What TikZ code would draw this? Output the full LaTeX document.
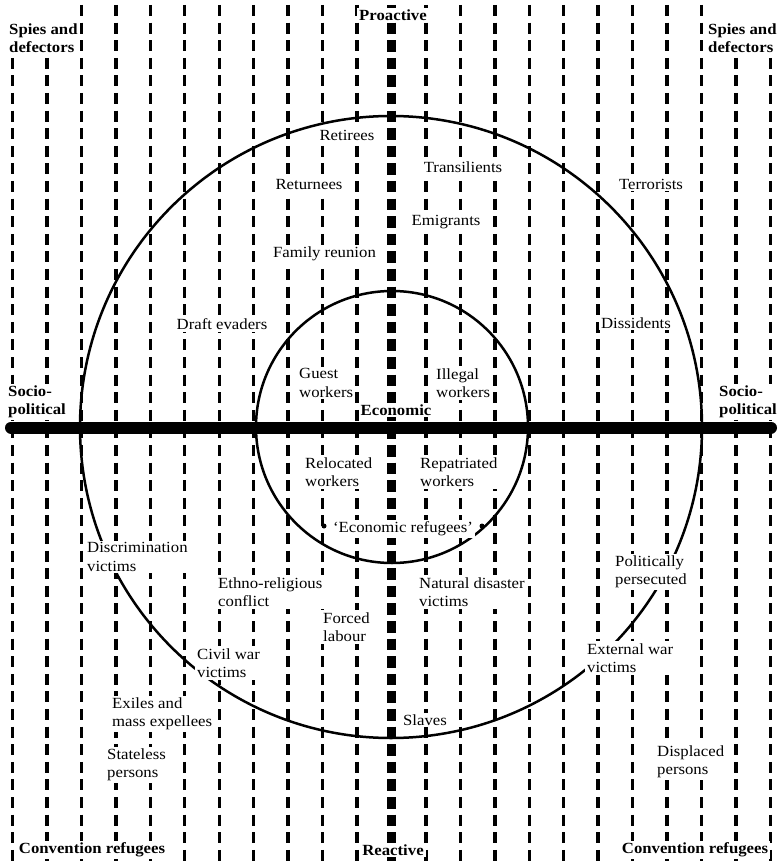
\documentclass[tikz,border=0pt]{standalone}
\usepackage{fontspec}
\setmainfont{Liberation Serif}[FakeStretch=1.08]
\begin{document}
\begin{tikzpicture}[x=1pt,y=-1pt,
  dline/.style={line width=3.4pt, dash pattern=on 11pt off 6.6pt},
  cline/.style={line width=8.5pt, dash pattern=on 11.5pt off 6.1pt},
  ring/.style={line width=2.5pt},
  axisline/.style={line width=12pt, line cap=round},
  lab/.style={fill=white, inner sep=2pt, font=\fontsize{15.5}{18.5}\selectfont, align=left},
  blab/.style={lab, font=\fontsize{15.5}{17.5}\selectfont\bfseries},
  pt/.style={circle, fill=black, inner sep=0pt, minimum size=5pt},
]
\useasboundingbox (0,0) rectangle (779,866);
% thin dashed verticals
\foreach \k in {0,...,22}{
  \pgfmathsetmacro{\xx}{12.5+34.45*\k}
  \ifnum\k=11\relax\else
    \ifnum\k<2
      \draw[dline] (\xx,57.8) -- (\xx,866);
    \else\ifnum\k>20
      \draw[dline] (\xx,57.8) -- (\xx,866);
    \else
      \draw[dline] (\xx,5) -- (\xx,866);
    \fi\fi
  \fi
}
% central thick dashed vertical
\draw[cline] (391.5,5) -- (391.5,866);
% circles
\draw[ring] (391,427) circle[radius=311];
\draw[ring] (392,427) circle[radius=136];
% horizontal axis
\coordinate (axL) at (11,427.5);
\coordinate (axR) at (771,427.5);
\draw[axisline] (axL) -- (axR);
% labels
\node[blab, anchor=west] (spiesL) at (7,38) {Spies and\\defectors};
\node[blab, anchor=west] (spiesR) at (706,38) {Spies and\\defectors};
\node[blab] (proactive) at (393,15) {Proactive};
\node[lab] (retirees) at (347,135) {Retirees};
\node[lab] (transilients) at (463,167.5) {Transilients};
\node[lab] (returnees) at (309,185) {Returnees};
\node[lab] (terrorists) at (651,184) {Terrorists};
\node[lab] (emigrants) at (446,222) {Emigrants};
\node[lab] (family) at (324.5,254) {Family reunion};
\node[lab] (draft) at (222,324) {Draft evaders};
\node[lab] (dissidents) at (636,323) {Dissidents};
\node[lab, anchor=west] (guest) at (297,383) {Guest\\workers};
\node[lab, anchor=west] (illegal) at (434,383) {Illegal\\workers};
\node[blab, anchor=west] (socioL) at (6,402) {Socio-\\political};
\node[blab, anchor=west] (socioR) at (717,402) {Socio-\\political};
\node[blab] (economic) at (396,410) {Economic};
\node[lab, anchor=west] (relocated) at (303,472) {Relocated\\workers};
\node[lab, anchor=west] (repatriated) at (418,472) {Repatriated\\workers};
\node[lab] (econref) at (403,529) {`Economic refugees'};
\node[pt] (dotL) at (324,526) {};
\node[pt] (dotR) at (482,526) {};
\node[lab, anchor=west] (discrim) at (85,557) {Discrimination\\victims};
\node[lab, anchor=west] (polit) at (613,572) {Politically\\persecuted};
\node[lab, anchor=west] (ethno) at (216,592) {Ethno-religious\\conflict};
\node[lab, anchor=west] (natural) at (417,592) {Natural disaster\\victims};
\node[lab, anchor=west] (forced) at (321,627) {Forced\\labour};
\node[lab, anchor=west] (civil) at (195,663) {Civil war\\victims};
\node[lab, anchor=west] (external) at (585,658) {External war\\victims};
\node[lab, anchor=west] (exiles) at (110,714) {Exiles and\\mass expellees};
\node[lab] (slaves) at (425,720) {Slaves};
\node[lab, anchor=west] (displaced) at (655,762) {Displaced\\persons};
\node[lab, anchor=west] (stateless) at (105,765) {Stateless\\persons};
\node[blab] (convL) at (92,850) {Convention refugees};
\node[blab] (reactive) at (393,850) {Reactive};
\node[blab] (convR) at (695,850) {Convention refugees};
\end{tikzpicture}
\end{document}
